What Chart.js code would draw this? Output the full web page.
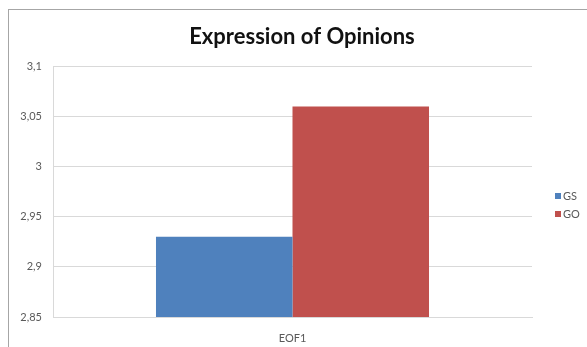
<!DOCTYPE html>
<html>
<head>
<meta charset="utf-8">
<script src="https://cdn.jsdelivr.net/npm/chart.js@4"></script>
<style>
  html, body { margin: 0; padding: 0; background: #fff; }
  #wrap { position: relative; width: 587px; height: 347px; overflow: hidden; }
  #frame { position: absolute; left: 8px; top: 9px; width: 600px; height: 400px;
           border-left: 1px solid #a6a6a6; border-top: 1px solid #a6a6a6; box-sizing: border-box; }
  canvas { position: absolute; left: 0; top: 0; }
</style>
</head>
<body>
<div id="wrap">
  <div id="frame"></div>
  <canvas id="c" width="587" height="347"></canvas>
</div>
<script>
// Chart content
const chartTitle = 'Expression of Opinions';
const categories = ['EOF1'];
const seriesNames = ['GS', 'GO'];
const gsValues = [2.93];
const goValues = [3.06];
const yTicks = [2.85, 2.9, 2.95, 3, 3.05, 3.1];

const seriesColors = ['#4F81BD', '#C0504D'];
const textGray = '#595959';
const gridGray = '#D9D9D9';
const fontFamily = 'Lato, "Open Sans", "Liberation Sans", sans-serif';

const fmt = v => String(+Number(v).toFixed(2)).replace('.', ',');

// Legend drawn in the reserved strip right of the plot, items stacked vertically
const sideLegend = {
  id: 'sideLegend',
  afterDraw(chart) {
    const ctx = chart.ctx;
    const area = chart.chartArea;
    const x = area.right + 23;
    const y0 = 196;
    ctx.save();
    ctx.font = '11px ' + fontFamily;
    ctx.textBaseline = 'middle';
    ctx.textAlign = 'left';
    chart.data.datasets.forEach((ds, i) => {
      const cy = y0 + i * 18;
      ctx.fillStyle = ds.backgroundColor;
      ctx.fillRect(x, cy - 3, 6, 6);
      ctx.fillStyle = textGray;
      ctx.fillText(ds.label, x + 8, cy + 0.5);
    });
    ctx.restore();
  }
};

new Chart(document.getElementById('c'), {
  type: 'bar',
  data: {
    labels: categories,
    datasets: [
      { label: seriesNames[0], data: gsValues, backgroundColor: seriesColors[0] },
      { label: seriesNames[1], data: goValues, backgroundColor: seriesColors[1] }
    ]
  },
  options: {
    responsive: false,
    animation: false,
    devicePixelRatio: 1,
    layout: { padding: { left: 17, right: 0, top: 0, bottom: 0 } },
    datasets: { bar: { categoryPercentage: 0.57, barPercentage: 1 } },
    plugins: {
      legend: { display: false },
      tooltip: { enabled: false },
      title: {
        display: true,
        text: chartTitle,
        color: '#111111',
        font: { family: fontFamily, size: 22, weight: 'bold', lineHeight: 1.2 },
        padding: { top: 24, bottom: 16 }
      }
    },
    scales: {
      x: {
        grid: { display: false },
        border: { display: true, color: gridGray, width: 1 },
        ticks: { color: textGray, font: { family: fontFamily, size: 11 }, padding: 7 },
        afterFit(scale) { scale.height = 30; }
      },
      y: {
        min: 2.85,
        max: 3.1,
        grid: { color: gridGray, lineWidth: 1, drawTicks: false },
        border: { display: true, color: gridGray, width: 1 },
        afterBuildTicks(scale) { scale.ticks = yTicks.map(v => ({ value: v })); },
        ticks: {
          color: textGray,
          font: { family: fontFamily, size: 11 },
          padding: 11,
          callback: v => fmt(v)
        },
        afterFit(scale) { scale.width = 36; }
      },
      // empty strip on the right that holds the legend
      legendStrip: {
        type: 'linear',
        position: 'right',
        display: true,
        grid: { display: false },
        border: { display: false },
        ticks: { display: false },
        afterFit(scale) { scale.width = 55; }
      }
    }
  },
  plugins: [sideLegend]
});
</script>
</body>
</html>
